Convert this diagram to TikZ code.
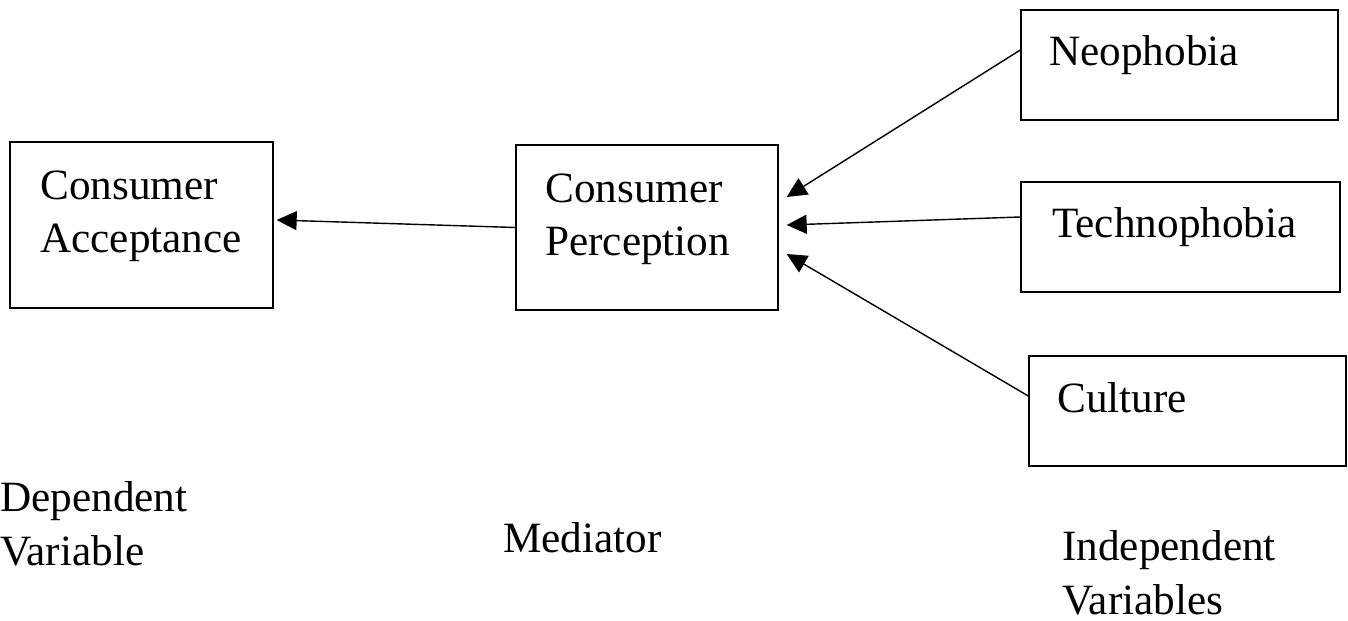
\documentclass[tikz,border=0pt]{standalone}
\usepackage{fontspec}
\setmainfont{Liberation Serif}
\usetikzlibrary{arrows.meta}
\tikzset{
	box/.style={draw,line width=0.8pt,inner sep=0pt},
	txt/.style={anchor=base west,align=left,inner sep=0pt,font=\fontsize{24.6}{30.2}\selectfont},
	arr/.style={line width=0.8pt,-{Triangle[length=0.4cm,width=0.38cm]}}
}
\begin{document}
\begin{tikzpicture}[x=0.02cm,y=-0.02cm]
		\useasboundingbox (0,0) rectangle (1348,621);
		% Hộp
		\node[box,minimum width=5.26cm,minimum height=3.32cm] (acc) at (141.5,225) {};
		\node[box,minimum width=5.24cm,minimum height=3.30cm] (per) at (647,227.5) {};
		\node[box,minimum width=6.34cm,minimum height=2.2cm] (neo) at (1179.5,65) {};
		\node[box,minimum width=6.38cm,minimum height=2.2cm] (tech) at (1180.5,237) {};
		\node[box,minimum width=6.34cm,minimum height=2.2cm] (cul) at (1187.5,411) {};
		\node[txt] (acctxt) at (40,253) {Consumer\\Acceptance};
		\node[txt] (pertxt) at (545,256) {Consumer\\Perception};
		\node[txt] (neotxt) at (1049,66) {Neophobia};
		\node[txt] (techtxt) at (1052,238) {Technophobia};
		\node[txt] (cultxt) at (1057,412) {Culture};
		% Nhãn
		\node[txt] (dep) at (0,565) {Dependent\\Variable};
		\node[txt] (med) at (503,552) {Mediator};
		\node[txt] (indep) at (1062,614) {Independent\\Variables};
		% Mũi tên
		\draw[arr] ([yshift=0.3cm]neo.west)--([shift={(0.16cm,0.61cm)}]per.east);
		\draw[arr] ([yshift=0.4cm]tech.west)--([shift={(0.16cm,0.05cm)}]per.east);
		\draw[arr] ([yshift=0.3cm]cul.west)--([shift={(0.16cm,-0.53cm)}]per.east);
		\draw[arr] (per.west)--([shift={(0.06cm,0.1cm)}]acc.east);
		\end{tikzpicture}
\end{document}
